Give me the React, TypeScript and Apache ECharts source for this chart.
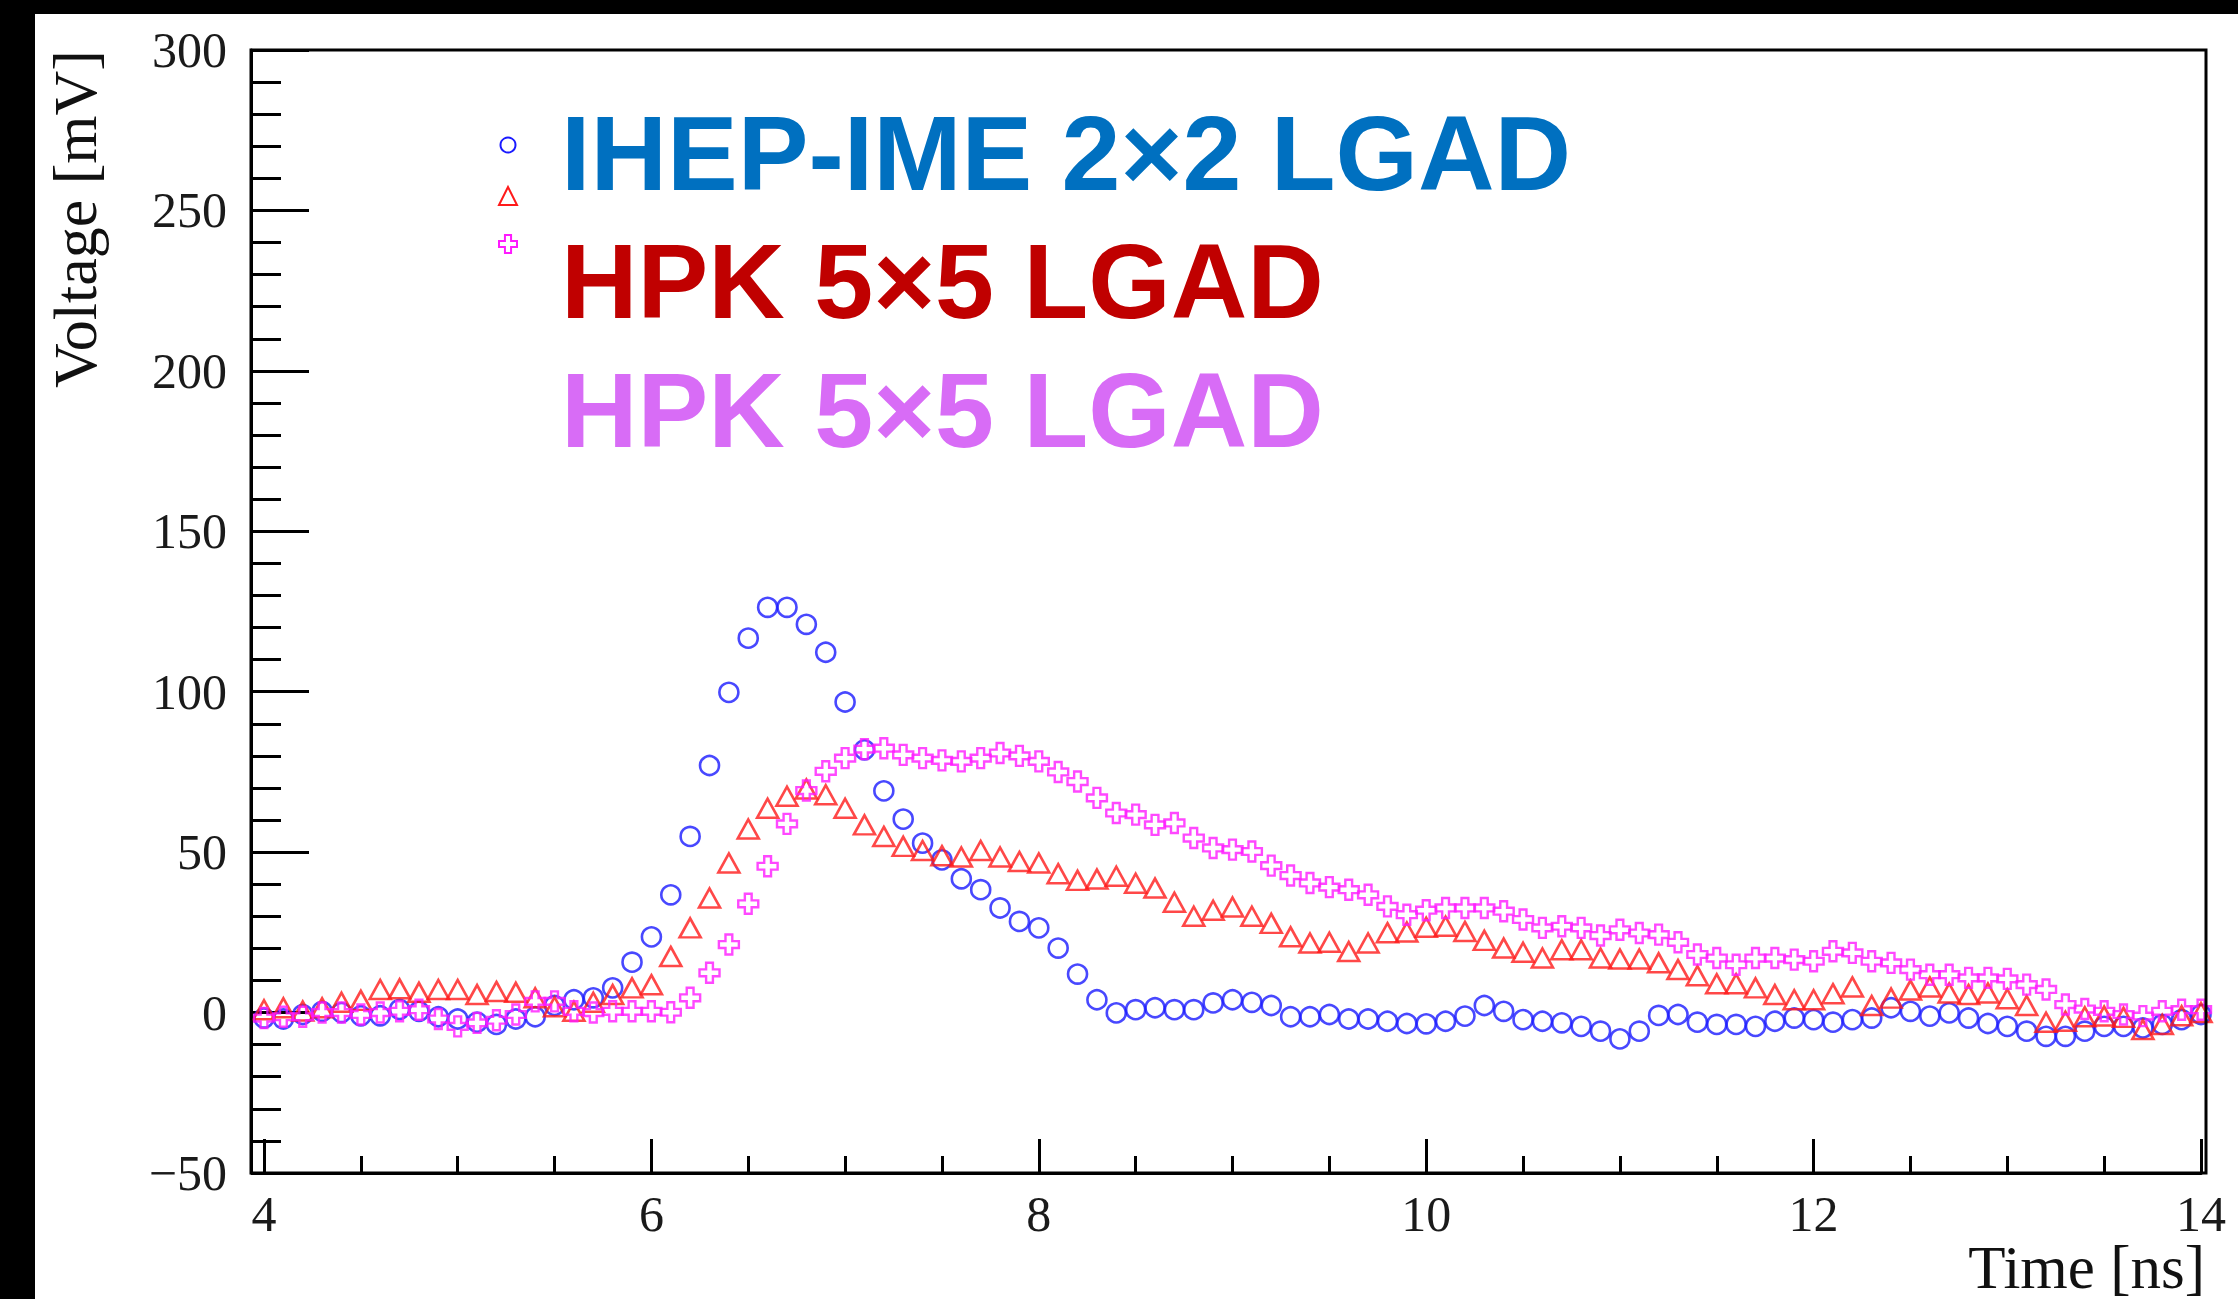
import React, { useEffect, useRef } from 'react';
import * as echarts from 'echarts';

const W = 2238;
const H = 1299;

// Time axis [ns]
const times = [
  4.0, 4.1, 4.2, 4.3, 4.4, 4.5, 4.6, 4.7, 4.8, 4.9,
  5.0, 5.1, 5.2, 5.3, 5.4, 5.5, 5.6, 5.7, 5.8, 5.9,
  6.0, 6.1, 6.2, 6.3, 6.4, 6.5, 6.6, 6.7, 6.8, 6.9,
  7.0, 7.1, 7.2, 7.3, 7.4, 7.5, 7.6, 7.7, 7.8, 7.9,
  8.0, 8.1, 8.2, 8.3, 8.4, 8.5, 8.6, 8.7, 8.8, 8.9,
  9.0, 9.1, 9.2, 9.3, 9.4, 9.5, 9.6, 9.7, 9.8, 9.9,
  10.0, 10.1, 10.2, 10.3, 10.4, 10.5, 10.6, 10.7, 10.8, 10.9,
  11.0, 11.1, 11.2, 11.3, 11.4, 11.5, 11.6, 11.7, 11.8, 11.9,
  12.0, 12.1, 12.2, 12.3, 12.4, 12.5, 12.6, 12.7, 12.8, 12.9,
  13.0, 13.1, 13.2, 13.3, 13.4, 13.5, 13.6, 13.7, 13.8, 13.9,
  14.0,
];

// Voltage [mV] — IHEP-IME 2x2 LGAD (blue open circles)
const ihepVoltage = [
  -1.7, -2.0, -0.6, 0.4, 0.0, -1.0, -1.0, 1.0, 0.4, -1.3,
  -2.0, -3.0, -3.7, -2.0, -1.3, 2.2, 4.0, 4.6, 7.7, 15.7,
  23.6, 36.7, 54.9, 77.0, 99.8, 116.7, 126.3, 126.3, 121.0, 112.3,
  96.8, 81.9, 69.1, 60.3, 52.8, 47.6, 41.7, 38.3, 32.6, 28.4,
  26.4, 20.1, 12.0, 4.0, -0.1, 0.9, 1.5, 0.9, 0.9, 3.0,
  4.0, 3.2, 2.2, -1.3, -1.3, -0.6, -2.0, -2.0, -2.7, -3.4,
  -3.5, -2.7, -1.1, 2.2, 0.4, -2.2, -2.7, -3.2, -4.3, -5.8,
  -8.2, -5.8, -0.9, -0.6, -3.0, -3.7, -3.7, -4.3, -2.7, -1.7,
  -2.2, -3.0, -2.2, -1.7, 1.5, 0.4, -1.1, -0.1, -1.7, -3.4,
  -4.3, -5.8, -7.4, -7.4, -5.8, -4.3, -4.3, -4.8, -3.7, -2.2,
  -0.6,
];

// Voltage [mV] — HPK 5x5 LGAD (red open triangles)
const hpkRedVoltage = [
  0.9, 1.5, 0.5, 1.5, 3.2, 3.8, 7.2, 7.4, 6.3, 7.2,
  7.2, 5.6, 6.6, 6.3, 4.6, 1.8, 0.4, 3.2, 5.6, 7.7,
  8.7, 17.5, 26.4, 35.7, 46.6, 57.2, 63.7, 67.4, 69.7, 67.9,
  63.7, 58.5, 54.9, 51.8, 50.5, 48.9, 48.5, 50.5, 48.5, 47.1,
  46.6, 43.3, 41.2, 41.6, 42.5, 40.3, 38.8, 34.4, 30.0, 31.9,
  32.9, 30.0, 27.8, 23.6, 21.7, 21.9, 19.0, 21.7, 24.9, 25.1,
  26.6, 26.9, 25.3, 22.5, 20.1, 18.8, 17.0, 19.6, 19.6, 17.0,
  16.7, 16.7, 15.5, 13.4, 11.5, 9.0, 9.0, 7.7, 5.6, 4.0,
  4.0, 5.9, 8.0, 2.2, 4.5, 7.0, 8.0, 6.1, 5.6, 6.1,
  4.3, 2.2, -3.0, -2.7, -1.3, -1.1, -1.5, -5.3, -3.7, -1.0,
  0.0,
];

// Voltage [mV] — HPK 5x5 LGAD (magenta open crosses)
const hpkMagentaVoltage = [
  -1.7, -1.3, -1.3, 0.0, 0.0, -0.6, 0.0, 0.4, 0.9, -2.0,
  -4.3, -3.2, -2.4, -0.6, 3.5, 3.5, 0.4, 0.0, 0.4, 0.4,
  0.4, 0.1, 4.6, 12.4, 21.2, 33.9, 45.6, 58.8, 69.2, 75.2,
  79.3, 82.1, 82.4, 80.3, 79.3, 78.6, 78.3, 79.3, 80.9, 80.0,
  78.3, 75.0, 72.0, 66.9, 62.2, 61.7, 58.5, 59.1, 54.4, 51.3,
  50.8, 50.2, 45.8, 42.7, 40.4, 39.1, 38.3, 36.7, 33.1, 30.5,
  31.9, 32.6, 32.6, 32.6, 31.6, 29.0, 26.4, 26.9, 26.4, 24.0,
  25.8, 24.8, 24.3, 21.9, 18.1, 17.0, 14.9, 17.0, 17.0, 16.5,
  16.0, 19.1, 18.6, 16.0, 15.5, 13.4, 11.8, 11.8, 10.8, 10.8,
  10.5, 8.7, 7.2, 2.5, 1.1, 0.4, -0.6, -1.1, 0.4, 0.9,
  0.9,
];

const legendLabels = ['IHEP-IME 2×2 LGAD', 'HPK 5×5 LGAD', 'HPK 5×5 LGAD'];
const legendColors = ['#0070c0', '#c00000', '#d86cf6'];

const xTitle = 'Time [ns]';
const yTitle = 'Voltage [mV]';

const SERIF = '"Liberation Serif", "Times New Roman", serif';
const SANS = '"Liberation Sans", Arial, sans-serif';

const CROSS_PATH = 'path://M3.3,0H6.7V3.3H10V6.7H6.7V10H3.3V6.7H0V3.3H3.3Z';

function pairs(vals: number[]) {
  return times.map((t, i) => [t, vals[i]]);
}

export default function App() {
  const ref = useRef<HTMLDivElement>(null);

  useEffect(() => {
    if (!ref.current) return;
    const chart = echarts.init(ref.current, null, { renderer: 'svg', width: W, height: H });

    const crossPts = (cx: number, cy: number, s: number) => {
      const a = s * 0.17;
      const b = s * 0.5;
      return [
        [cx - a, cy - b], [cx + a, cy - b], [cx + a, cy - a], [cx + b, cy - a],
        [cx + b, cy + a], [cx + a, cy + a], [cx + a, cy + b], [cx - a, cy + b],
        [cx - a, cy + a], [cx - b, cy + a], [cx - b, cy - a], [cx - a, cy - a],
      ];
    };

    const option: any = {
      animation: false,
      backgroundColor: '#ffffff',
      grid: {
        left: 264,
        top: 50,
        width: 1937,
        height: 1123,
        containLabel: false,
        outerBoundsMode: 'none',
      },
      xAxis: {
        type: 'value',
        min: 4,
        max: 14,
        interval: 2,
        axisLine: { show: true, onZero: false, lineStyle: { color: '#000', width: 3 } },
        axisTick: { show: true, inside: true, length: 34, lineStyle: { color: '#000', width: 3 } },
        minorTick: { show: true, splitNumber: 4, length: 17, lineStyle: { color: '#000', width: 3 } },
        splitLine: { show: false },
        minorSplitLine: { show: false },
        axisLabel: {
          margin: 16,
          fontFamily: SERIF,
          fontSize: 50,
          color: '#1a1a1a',
        },
      },
      yAxis: {
        type: 'value',
        min: -50,
        max: 300,
        interval: 50,
        offset: 13,
        axisLine: { show: true, onZero: false, lineStyle: { color: '#000', width: 3 } },
        axisTick: { show: true, inside: true, length: 58, lineStyle: { color: '#000', width: 3 } },
        minorTick: { show: true, splitNumber: 5, length: 30, lineStyle: { color: '#000', width: 3 } },
        splitLine: { show: false },
        minorSplitLine: { show: false },
        axisLabel: {
          margin: 24,
          fontFamily: SERIF,
          fontSize: 50,
          color: '#1a1a1a',
          formatter: (v: number) => (v < 0 ? '\u2212' + Math.abs(v) : String(v)),
        },
      },
      series: [
        {
          type: 'scatter',
          name: legendLabels[0],
          data: pairs(ihepVoltage),
          symbol: 'circle',
          symbolSize: 19,
          itemStyle: { color: 'rgba(0,0,0,0)', borderColor: '#1a1aff', borderWidth: 2.6 },
          z: 3,
        },
        {
          type: 'scatter',
          name: legendLabels[1] + ' (red)',
          data: pairs(hpkRedVoltage),
          symbol: 'triangle',
          symbolSize: [21, 19],
          itemStyle: { color: 'rgba(0,0,0,0)', borderColor: '#ff1a1a', borderWidth: 2.6 },
          z: 4,
        },
        {
          type: 'scatter',
          name: legendLabels[2] + ' (magenta)',
          data: pairs(hpkMagentaVoltage),
          symbol: CROSS_PATH,
          symbolSize: 20,
          itemStyle: { color: 'rgba(0,0,0,0)', borderColor: '#ff1aff', borderWidth: 2.4 },
          z: 5,
        },
      ],
      graphic: [
        // black bands around the picture
        { type: 'rect', shape: { x: 0, y: 0, width: W, height: 14 }, style: { fill: '#000' }, z: 100 },
        { type: 'rect', shape: { x: 0, y: 0, width: 35, height: H }, style: { fill: '#000' }, z: 100 },
        // frame
        {
          type: 'rect',
          shape: { x: 251, y: 50, width: 1955, height: 1123 },
          style: { fill: 'none', stroke: '#000', lineWidth: 3 },
          z: 50,
        },
        // axis titles
        {
          type: 'text',
          x: 2205,
          y: 1267,
          style: {
            text: xTitle,
            fontFamily: SERIF,
            fontSize: 61,
            fill: '#111',
            textAlign: 'right',
            textVerticalAlign: 'middle',
          },
          z: 60,
        },
        {
          type: 'text',
          x: 75,
          y: 50,
          rotation: Math.PI / 2,
          style: {
            text: yTitle,
            fontFamily: SERIF,
            fontSize: 62,
            fill: '#111',
            textAlign: 'right',
            textVerticalAlign: 'middle',
          },
          z: 60,
        },
        // legend markers
        {
          type: 'circle',
          shape: { cx: 508, cy: 145, r: 7.5 },
          style: { fill: 'none', stroke: '#1a1aff', lineWidth: 2 },
          z: 60,
        },
        {
          type: 'polygon',
          shape: { points: [[508, 187], [499, 205], [517, 205]] },
          style: { fill: 'none', stroke: '#ff1a1a', lineWidth: 2 },
          z: 60,
        },
        {
          type: 'polygon',
          shape: { points: crossPts(508, 244, 18) },
          style: { fill: 'none', stroke: '#ff1aff', lineWidth: 2 },
          z: 60,
        },
        // legend texts
        ...legendLabels.map((t, i) => ({
          type: 'text',
          x: 561,
          y: [153, 281, 410][i],
          style: {
            text: t,
            fontFamily: SANS,
            fontWeight: 'bold',
            fontSize: 106,
            fill: legendColors[i],
            textAlign: 'left',
            textVerticalAlign: 'middle',
          },
          z: 60,
        })),
      ],
    };

    chart.setOption(option);
    return () => chart.dispose();
  }, []);

  return (
    <div
      ref={ref}
      style={{ position: 'absolute', left: 0, top: 0, width: W, height: H, background: '#fff' }}
    />
  );
}
